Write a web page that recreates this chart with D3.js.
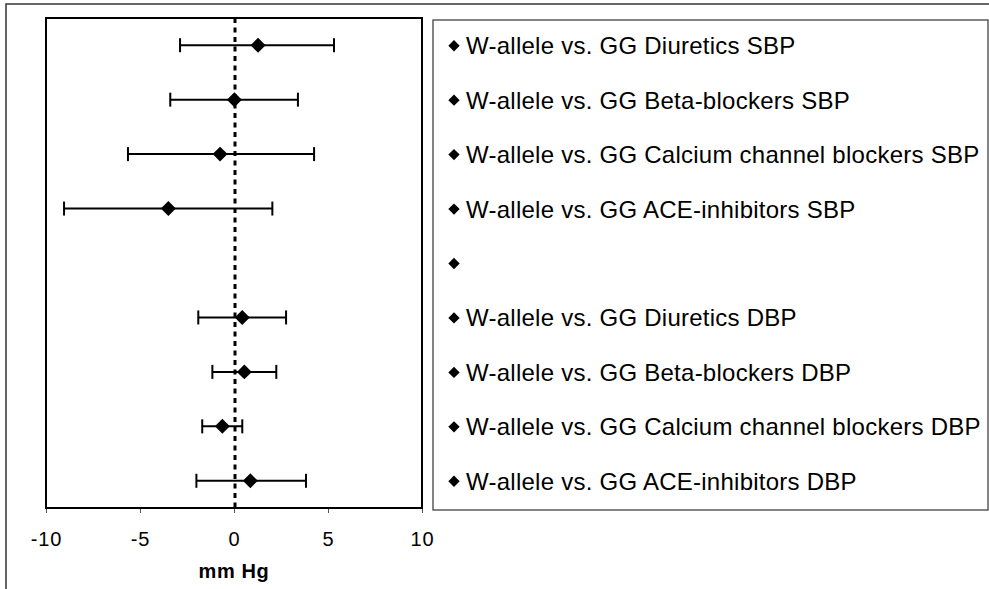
<!DOCTYPE html>
<html>
<head>
<meta charset="utf-8">
<script src="https://cdn.jsdelivr.net/npm/d3@7/dist/d3.min.js"></script>
<style>
  html, body { margin: 0; padding: 0; background: #fff; }
  svg { display: block; font-family: "Liberation Sans", Arial, sans-serif; }
  text { font-family: "Liberation Sans", Arial, sans-serif; }
</style>
</head>
<body>
<svg id="chart" width="989" height="589"></svg>
<script>
// ---- data ----
const categories = [
  "W-allele vs. GG Diuretics SBP",
  "W-allele vs. GG Beta-blockers SBP",
  "W-allele vs. GG Calcium channel blockers SBP",
  "W-allele vs. GG ACE-inhibitors SBP",
  "",
  "W-allele vs. GG Diuretics DBP",
  "W-allele vs. GG Beta-blockers DBP",
  "W-allele vs. GG Calcium channel blockers DBP",
  "W-allele vs. GG ACE-inhibitors DBP"
];
const estimates = [1.28, 0.02, -0.74, -3.49, null, 0.44, 0.55, -0.62, 0.87];
const lowerCI   = [-2.87, -3.39, -5.64, -9.04, null, -1.90, -1.15, -1.69, -2.00];
const upperCI   = [5.32, 3.40, 4.26, 2.04, null, 2.77, 2.25, 0.44, 3.83];
const xTicks = [-10, -5, 0, 5, 10];
const xLabel = "mm Hg";

// ---- layout ----
const svg = d3.select("#chart");
const plot = { left: 46, right: 422, top: 18, bottom: 508 };

const x = d3.scaleLinear().domain([-10, 10]).range([plot.left, plot.right]);
const y = d3.scaleBand().domain(d3.range(categories.length)).range([plot.top, plot.bottom]);
const cy = i => y(i) + y.bandwidth() / 2;

// outer frame
svg.append("rect")
  .attr("x", 6).attr("y", 4).attr("width", 1200).attr("height", 800)
  .attr("fill", "none").attr("stroke", "#333").attr("stroke-width", 1.5);

// axis
const axis = d3.axisBottom(x).tickValues(xTicks).tickSize(5).tickPadding(0)
  .tickFormat(d => String(d));
const gAxis = svg.append("g").attr("transform", `translate(0,${plot.bottom})`).call(axis);
gAxis.attr("font-family", null).attr("font-size", null);
gAxis.select(".domain").remove();
gAxis.selectAll(".tick line").attr("stroke", "#555").attr("stroke-width", 1);
gAxis.selectAll(".tick text")
  .attr("y", 38).attr("dy", null)
  .attr("font-size", 20)
  .attr("fill", "#000").style("letter-spacing", "0.8px");

// x label
svg.append("text")
  .attr("x", x(0)).attr("y", 578)
  .attr("text-anchor", "middle")
  .attr("font-size", 20).attr("font-weight", "bold")
  .style("letter-spacing", "0.6px")
  .text(xLabel);

// plot border
svg.append("rect")
  .attr("x", plot.left).attr("y", plot.top)
  .attr("width", plot.right - plot.left).attr("height", plot.bottom - plot.top)
  .attr("fill", "none").attr("stroke", "#000").attr("stroke-width", 2);

// zero reference line
svg.append("line")
  .attr("x1", x(0) + 1).attr("x2", x(0) + 1)
  .attr("y1", plot.top).attr("y2", plot.bottom)
  .attr("stroke", "#000").attr("stroke-width", 3)
  .attr("stroke-dasharray", "5,4.5");

// data rows
const rows = d3.range(categories.length).filter(i => estimates[i] !== null);
const g = svg.append("g");
const capH = 7;
rows.forEach(i => {
  const yy = cy(i);
  g.append("line").attr("x1", x(lowerCI[i])).attr("x2", x(upperCI[i]))
    .attr("y1", yy).attr("y2", yy).attr("stroke", "#000").attr("stroke-width", 2);
  [lowerCI[i], upperCI[i]].forEach(v => {
    g.append("line").attr("x1", x(v)).attr("x2", x(v))
      .attr("y1", yy - capH).attr("y2", yy + capH)
      .attr("stroke", "#000").attr("stroke-width", 2);
  });
  g.append("path")
    .attr("d", d3.symbol(d3.symbolSquare, 112)())
    .attr("transform", `translate(${x(estimates[i])},${yy}) rotate(45)`)
    .attr("fill", "#000");
});

// legend
const leg = { left: 433, top: 20, right: 988, bottom: 510 };
svg.append("rect")
  .attr("x", leg.left).attr("y", leg.top)
  .attr("width", leg.right - leg.left).attr("height", leg.bottom - leg.top)
  .attr("fill", "#fff").attr("stroke", "#333").attr("stroke-width", 1.2);

const legG = svg.append("g");
categories.forEach((c, i) => {
  const yy = cy(i) + 0.5;
  legG.append("path")
    .attr("d", d3.symbol(d3.symbolSquare, 64)())
    .attr("transform", `translate(454,${yy}) rotate(45)`)
    .attr("fill", "#000");
  legG.append("text")
    .attr("x", 466).attr("y", yy + 8.5)
    .attr("font-size", 24)
    .style("letter-spacing", "0.25px")
    .attr("fill", "#000")
    .text(c);
});
</script>
</body>
</html>
